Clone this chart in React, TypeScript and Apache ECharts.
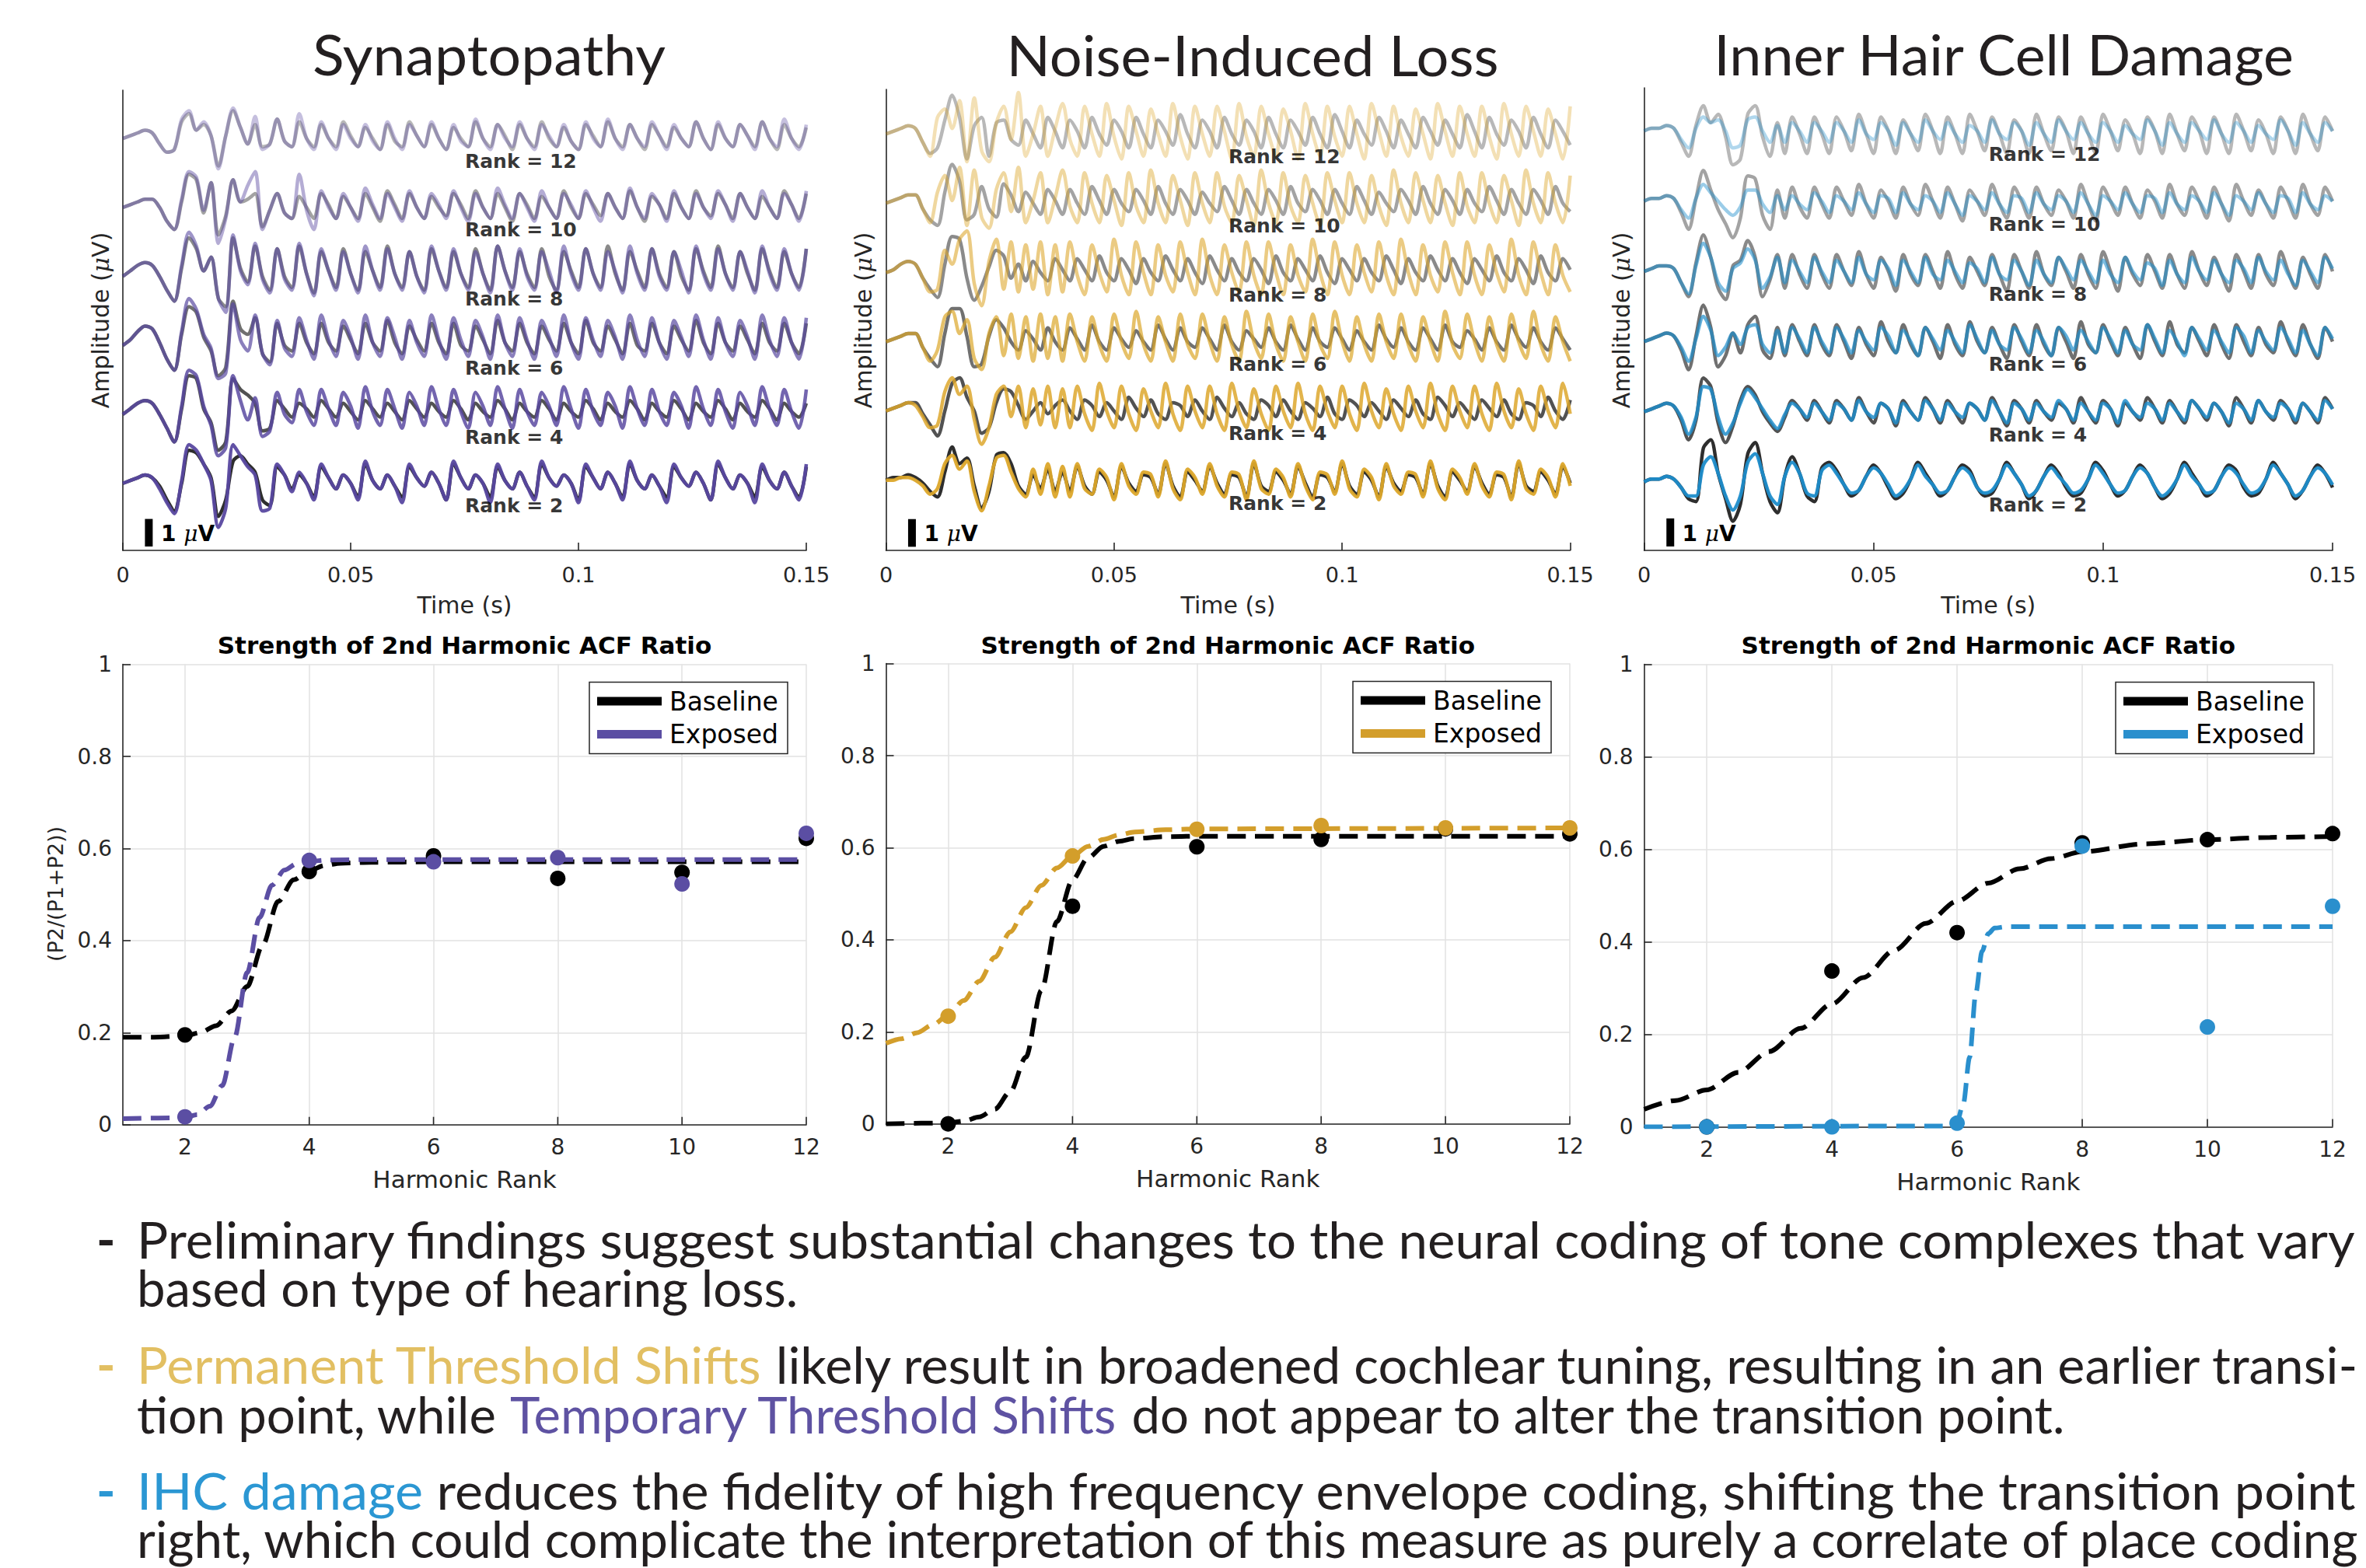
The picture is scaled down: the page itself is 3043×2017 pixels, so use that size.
import React, { useEffect, useRef } from "react";
import * as echarts from "echarts";

const W = 3043;
const H = 2017;

// ================= DATA =================
// Waveforms: tenths of a microvolt, relative to each trace's own offset, sampled evenly over 0-0.15 s.
const RANKS = [12, 10, 8, 6, 4, 2];

// --- Synaptopathy ---
const SYN_B12 = [0,1,2,3,2,-2,-5,-4,6,9,3,5,1,-10,1,10,4,-2,5,-3,-2,7,-1,-3,6,0,-3,5,0,-3,6,1,-3,4,0,-4,5,-1,-3,6,1,-3,5,0,-4,4,0,-3,6,0,-3,5,1,-4,5,0,-3,6,0,-3,4,-1,-4,5,1,-3,6,0,-3,5,0,-4,5,1,-3,4,0,-3,6,0,-4,5,0,-3,5,1,-3,6,0,-4,5,0,-3,4];
const SYN_E12 = [0,1,2,3,2,-2,-5,-4,7,10,3,6,1,-11,1,11,4,-2,8,-4,-2,7,-1,-3,9,0,-4,6,0,-4,5,0,-3,5,-1,-4,6,0,-4,5,1,-3,6,0,-4,5,-1,-3,7,0,-4,5,0,-3,6,0,-4,5,1,-3,5,-1,-4,6,0,-3,7,0,-4,5,0,-3,6,1,-4,5,0,-3,6,0,-4,6,0,-3,5,1,-4,6,0,-3,7,0,-4,5];
const SYN_B10 = [0,1,2,3,3,0,-5,-8,2,12,10,-2,9,-10,-3,10,2,3,5,-7,-1,5,-2,-4,4,0,-4,5,1,-4,4,0,-4,5,0,-5,6,1,-4,5,0,-4,4,0,-3,5,1,-4,6,0,-4,5,0,-5,5,1,-4,4,0,-4,6,0,-4,5,1,-3,5,0,-4,6,0,-5,4,1,-4,5,0,-4,6,0,-3,5,1,-4,5,0,-4,4,0,-4,6,1,-4,5];
const SYN_E10 = [0,1,2,3,3,0,-5,-8,3,13,11,-1,9,-13,-4,10,2,8,13,-8,-1,5,-2,-4,12,-1,-8,6,0,-4,5,0,-5,7,1,-4,5,0,-5,6,0,-4,5,1,-4,6,0,-5,5,0,-4,7,1,-4,5,0,-5,6,0,-4,5,1,-4,6,0,-5,5,0,-4,7,0,-4,5,1,-5,6,0,-4,5,0,-4,6,1,-5,5,0,-4,6,0,-4,5,1,-5,6];
const SYN_B8 = [0,2,4,5,4,0,-5,-9,3,14,10,2,7,-8,-11,14,3,-2,11,0,-5,10,0,-4,11,1,-6,9,2,-4,10,1,-5,9,2,-4,11,1,-4,9,0,-5,10,2,-4,9,1,-4,10,1,-5,11,2,-4,9,1,-4,10,0,-5,9,2,-4,10,1,-4,11,1,-5,9,2,-4,10,1,-4,9,0,-5,10,2,-4,11,1,-4,9,1,-5,10,2,-4,9,1,-4,10];
const SYN_E8 = [0,2,4,5,4,0,-5,-9,4,16,11,2,7,-8,-13,15,2,-3,12,-1,-6,10,-1,-5,12,1,-7,10,2,-5,9,1,-6,11,2,-5,10,1,-5,9,0,-6,11,2,-5,10,1,-5,9,1,-6,11,2,-5,10,0,-5,9,2,-6,11,1,-5,10,1,-5,9,2,-6,11,1,-5,10,0,-5,9,2,-6,11,1,-5,10,1,-5,9,2,-6,11,1,-5,10,1,-5,10];
const SYN_B6 = [0,2,5,7,6,1,-5,-9,4,14,12,3,-2,-11,-8,16,6,4,10,-3,-6,8,0,-2,8,1,-3,8,1,-2,7,2,-3,8,1,-2,9,1,-3,7,2,-2,8,1,-3,8,0,-2,7,2,-3,9,1,-2,8,1,-3,7,2,-2,8,1,-3,9,1,-2,7,2,-3,8,0,-2,8,1,-3,7,2,-2,9,1,-3,8,1,-2,7,2,-3,8,1,-2,8,1,-3,8];
const SYN_E6 = [0,2,5,7,6,1,-5,-9,5,17,13,4,-1,-12,-10,15,2,-2,11,-3,-7,9,-1,-4,10,2,-5,11,2,-4,9,3,-5,11,1,-4,10,3,-5,9,1,-4,11,2,-5,10,2,-4,9,3,-5,11,1,-4,10,2,-5,9,3,-4,11,1,-5,10,2,-4,9,3,-5,11,2,-4,10,1,-5,9,3,-4,11,2,-5,10,1,-4,9,3,-5,11,2,-4,10,1,-5,10];
const SYN_B4 = [0,2,4,5,4,0,-5,-10,2,14,13,2,-3,-13,-10,13,9,7,4,-6,-5,5,2,-1,4,2,-1,5,2,-1,4,1,-2,5,2,-1,4,1,-2,5,2,-1,4,1,-1,5,2,-2,4,1,-1,5,2,-2,4,1,-1,5,2,-2,4,1,-1,5,2,-2,4,1,-1,5,2,-2,4,1,-1,5,2,-2,4,1,-1,5,2,-2,4,1,-1,5,2,-2,4,1,-1,4];
const SYN_E4 = [0,2,4,5,4,0,-5,-10,3,16,14,3,-4,-15,-12,14,5,-2,6,-8,-6,8,0,-3,9,1,-4,9,2,-4,8,3,-5,10,1,-4,9,2,-5,8,3,-4,10,2,-4,9,1,-5,8,3,-4,10,2,-5,9,1,-4,8,3,-4,10,2,-5,9,1,-4,8,3,-5,10,2,-4,9,1,-4,8,3,-5,10,2,-4,9,1,-5,8,3,-4,10,2,-4,9,1,-5,9];
const SYN_B2 = [0,1,2,3,2,-1,-6,-10,0,12,11,7,2,-12,-6,8,10,7,4,-6,-8,6,3,-2,3,0,-5,6,2,-2,3,0,-5,7,1,-2,3,-1,-5,6,2,-1,4,0,-6,7,2,-2,3,0,-5,6,1,-2,4,-1,-5,7,2,-1,3,0,-6,6,2,-2,4,0,-5,7,1,-2,3,-1,-5,6,2,-1,4,0,-6,7,2,-2,3,0,-5,6,1,-2,4,-1,-5,6];
const SYN_E2 = [0,1,2,3,2,-2,-7,-11,1,14,12,7,1,-16,-9,14,10,6,3,-10,-9,7,3,-3,4,0,-6,7,2,-2,3,0,-6,8,1,-2,3,-1,-7,7,2,-1,4,0,-6,8,2,-2,3,0,-7,7,1,-2,4,-1,-6,8,2,-1,3,0,-7,7,2,-2,4,0,-6,8,1,-2,3,-1,-7,7,2,-1,4,0,-6,8,2,-2,3,0,-7,7,1,-2,4,-1,-6,7];

// --- Noise-induced loss ---
const NOI_B12 = [0,1,2,3,2,-3,-7,-5,5,14,6,-9,3,6,-8,4,5,-2,-4,5,0,-5,6,1,-5,5,1,-5,6,0,-4,5,1,-5,6,0,-5,5,1,-4,7,0,-5,5,1,-5,6,0,-4,5,1,-5,6,0,-5,5,1,-4,6,0,-5,7,1,-5,5,0,-4,6,1,-5,5,0,-5,6,1,-4,5,0,-5,7,1,-5,6,0,-4,5,1,-5,6,0,-5,5,1,-4];
const NOI_E12 = [0,1,2,3,2,-3,-8,6,9,2,12,-10,13,-6,-10,4,10,-2,15,-8,0,10,-8,2,11,-2,-8,10,0,-8,11,-1,-9,10,1,-8,9,0,-8,11,-1,-9,10,0,-8,10,1,-9,11,-1,-8,10,0,-8,9,1,-9,11,0,-8,10,-1,-8,10,0,-9,11,1,-8,10,-1,-8,9,0,-9,11,1,-8,10,0,-8,10,-1,-9,11,0,-8,10,1,-8,9,0,-9,10];
const NOI_B10 = [0,1,2,3,3,-2,-6,-8,4,14,8,-6,-4,6,-2,-5,7,3,-3,4,0,-4,5,1,-4,5,0,-4,6,1,-4,5,0,-3,5,1,-4,6,0,-4,5,1,-4,4,0,-3,6,1,-4,5,0,-4,5,1,-4,6,0,-3,5,1,-4,5,0,-4,6,1,-4,4,0,-3,5,1,-4,6,0,-4,5,1,-4,5,0,-3,6,1,-4,5,0,-4,5,1,-4,6,0,-3];
const NOI_E10 = [0,1,2,3,3,-2,-7,4,10,1,13,-8,12,-5,-9,5,11,-3,13,-7,1,11,-7,2,12,-1,-7,11,0,-7,10,1,-8,11,-1,-7,12,0,-7,10,1,-8,11,0,-7,11,-1,-7,10,1,-8,12,0,-7,11,-1,-7,10,0,-8,11,1,-7,11,0,-7,10,-1,-8,12,0,-7,11,1,-7,10,0,-8,11,-1,-7,11,0,-7,10,1,-8,12,0,-7,11,0,-7,10];
const NOI_B8 = [0,1,3,4,3,-2,-6,-9,3,13,12,-2,-10,-5,2,8,6,-2,3,-3,4,0,-3,5,1,-3,5,1,-3,6,0,-3,5,1,-4,5,0,-3,6,1,-3,5,0,-4,6,1,-3,5,0,-3,5,1,-4,6,0,-3,5,1,-3,6,0,-4,5,1,-3,5,0,-3,6,1,-4,5,0,-3,6,1,-3,5,0,-4,5,1,-3,6,0,-3,5,1,-4,6,0,-3,5,1];
const NOI_E8 = [0,1,3,4,3,-2,-7,-6,8,3,12,15,-4,-12,4,12,-6,11,-7,10,-6,11,-8,10,-7,11,-1,-8,10,0,-7,12,-1,-8,11,0,-8,10,-1,-7,11,0,-8,12,-1,-8,10,0,-7,11,-1,-8,11,0,-8,10,-1,-7,12,0,-8,11,-1,-8,10,0,-7,11,-1,-8,12,0,-8,10,-1,-7,11,0,-8,11,-1,-8,10,0,-7,12,-1,-8,11,0,-8,10,-1,-7];
const NOI_B6 = [0,1,2,3,3,-2,-6,-9,3,12,12,2,-9,-8,2,8,5,0,-3,4,1,-3,5,0,-3,5,1,-3,6,0,-3,5,1,-2,4,0,-3,6,1,-3,5,0,-2,5,1,-3,6,0,-3,4,1,-2,5,0,-3,6,1,-3,5,0,-2,5,1,-3,4,0,-3,6,1,-2,5,0,-3,5,1,-3,6,0,-2,4,1,-3,5,0,-3,6,1,-2,5,0,-3,5,1,-3];
const NOI_E6 = [0,1,2,3,3,-2,-7,-3,9,11,3,8,-6,-10,3,9,-5,10,-6,9,-7,10,-6,9,-7,10,0,-7,9,-1,-7,10,0,-6,11,-1,-7,9,0,-7,10,-1,-6,10,0,-7,9,-1,-7,11,0,-6,10,-1,-7,9,0,-7,10,-1,-6,11,0,-7,9,-1,-7,10,0,-6,10,-1,-7,9,0,-7,11,-1,-6,10,0,-7,9,-1,-7,10,0,-6,11,-1,-7,9,0,-7];
const NOI_B4 = [0,1,2,3,3,-1,-5,-9,0,10,12,5,0,-8,-6,3,8,7,2,-3,0,3,-1,2,4,0,-3,4,2,-2,3,0,-3,5,1,-2,4,-1,-3,3,2,-2,4,0,-3,5,1,-2,3,-1,-3,4,2,-2,4,0,-3,3,1,-2,5,-1,-3,4,2,-2,3,0,-3,4,1,-2,4,-1,-3,5,2,-2,3,0,-3,4,1,-2,4,-1,-3,3,2,-2,5,0,-3,4];
const NOI_E4 = [0,1,2,3,2,-2,-6,-5,7,12,6,9,-3,-12,-6,6,9,-2,9,-6,8,-5,9,-6,8,-6,9,-1,-7,10,0,-6,9,-1,-7,8,0,-6,10,-1,-7,9,0,-6,9,-1,-7,10,0,-6,8,-1,-7,9,0,-6,10,-1,-7,9,0,-6,9,-1,-7,10,0,-6,8,-1,-7,9,0,-6,10,-1,-7,9,0,-6,9,-1,-7,10,0,-6,8,-1,-7,9,0,-6,10,-1];
const NOI_B2 = [0,1,1,2,1,-1,-4,-6,3,12,6,8,-2,-10,-4,9,10,6,-2,-5,2,-3,4,-4,3,-4,5,-2,-5,3,0,-6,5,-1,-4,2,1,-5,6,-2,-6,3,0,-4,5,-1,-5,2,1,-6,6,-2,-4,3,0,-5,5,-1,-6,2,1,-4,6,-2,-5,3,0,-6,5,-1,-4,2,1,-5,6,-2,-6,3,0,-4,5,-1,-5,2,1,-6,6,-2,-4,3,0,-5,5,-1];
const NOI_E2 = [0,0,1,1,0,-2,-5,-3,6,9,4,7,-4,-11,-2,8,9,3,-3,-6,4,-5,6,-6,5,-6,6,-3,-5,4,1,-7,6,-2,-5,3,2,-6,7,-3,-7,4,1,-5,6,-2,-6,3,2,-7,7,-3,-5,4,1,-6,6,-2,-7,3,2,-5,7,-3,-6,4,1,-7,6,-2,-5,3,2,-6,7,-3,-7,4,1,-5,6,-2,-6,3,2,-7,7,-3,-5,4,1,-6,6,-2];

// --- Inner hair cell damage ---
const IHC_B12 = [0,1,1,2,1,-4,-9,2,9,3,6,-2,-12,-10,6,9,-2,-9,3,-8,5,-1,-8,5,-1,-8,5,0,-7,6,-1,-8,5,0,-8,4,-1,-7,6,0,-8,5,-1,-8,6,0,-7,5,-1,-8,4,0,-8,6,-1,-7,5,0,-8,5,-1,-8,6,0,-7,4,-1,-8,5,0,-8,6,-1,-7,5,0,-8,5,-1,-8,6,0,-7,4,-1,-8,5,0,-8,6,-1,-7,5,0];
const IHC_E12 = [0,1,1,2,1,-3,-6,1,5,3,4,0,-6,-5,4,5,0,-4,2,-4,3,0,-4,3,0,-4,3,0,-4,4,-1,-3,3,0,-5,3,-1,-4,4,0,-3,3,-1,-4,2,0,-4,4,-1,-3,3,0,-5,3,-1,-4,4,0,-3,3,-1,-4,3,0,-4,2,-1,-3,4,0,-5,3,-1,-4,3,0,-3,4,-1,-4,3,0,-4,2,-1,-3,4,0,-5,3,-1,-4,3,0];
const IHC_B10 = [0,1,1,2,1,-4,-10,1,11,4,-3,-8,-13,-6,9,8,-5,-10,4,-6,5,-2,-6,5,-1,-6,5,0,-5,6,-1,-6,4,0,-6,5,-1,-5,6,0,-6,5,-1,-7,4,0,-5,6,-1,-6,5,0,-6,5,-1,-5,4,0,-6,6,-1,-7,5,0,-5,5,-1,-6,4,0,-6,6,-1,-5,5,0,-6,5,-1,-7,6,0,-5,4,-1,-6,5,0,-6,6,-1,-5,5,0];
const IHC_E10 = [0,1,1,2,1,-3,-6,1,6,3,0,-3,-5,-2,4,4,-1,-4,2,-3,2,-1,-3,3,0,-4,2,0,-3,3,-1,-4,2,1,-4,3,-1,-3,2,0,-4,3,-1,-5,2,0,-3,3,-1,-4,2,1,-4,3,-1,-3,2,0,-4,3,-1,-5,2,0,-3,3,-1,-4,2,1,-4,3,-1,-3,2,0,-4,3,-1,-5,2,0,-3,3,-1,-4,2,1,-4,3,-1,-3,2,0];
const IHC_B8 = [0,1,2,2,1,-4,-9,3,13,5,-6,-10,2,4,11,5,-9,-3,6,-6,6,-1,-6,6,-1,-6,6,0,-5,7,-1,-6,5,0,-7,6,-1,-5,6,0,-6,7,-1,-6,5,0,-5,6,-1,-7,6,0,-6,7,-1,-5,5,0,-6,6,-1,-6,7,0,-7,5,-1,-5,6,0,-6,6,-1,-6,7,0,-5,5,-1,-7,6,0,-6,6,-1,-5,7,0,-6,5,-1,-6,6,0];
const IHC_E8 = [0,1,2,2,1,-4,-8,2,10,5,-4,-7,1,3,8,4,-6,-2,5,-4,4,0,-4,5,0,-4,4,0,-4,5,-1,-3,4,1,-5,4,0,-4,5,-1,-3,4,0,-4,3,1,-4,5,-1,-3,4,0,-5,4,-1,-4,5,1,-3,4,0,-4,4,-1,-4,5,0,-3,3,1,-5,4,-1,-4,5,0,-3,4,-1,-4,4,1,-4,5,0,-3,4,-1,-5,4,0,-4,5,1];
const IHC_B6 = [0,1,2,3,2,-3,-10,2,13,5,-9,-5,3,-4,6,9,-3,-6,5,-5,6,0,-5,6,-1,-5,6,0,-6,5,-1,-5,7,0,-4,6,-1,-5,5,0,-6,6,-1,-5,7,0,-4,5,-1,-6,6,0,-5,6,-1,-5,5,0,-6,7,-1,-4,6,0,-5,5,-1,-6,6,0,-5,7,-1,-4,5,0,-5,6,-1,-6,6,0,-5,5,-1,-4,7,0,-5,6,-1,-6,5,0];
const IHC_E6 = [0,1,2,3,2,-2,-7,1,9,4,-5,-2,3,-1,5,6,-1,-4,4,-4,5,1,-4,5,0,-4,5,1,-4,4,0,-3,5,2,-4,4,0,-5,5,1,-3,4,0,-4,6,1,-4,4,-1,-3,5,1,-4,4,0,-5,5,2,-3,4,0,-4,5,1,-4,4,-1,-3,6,1,-4,4,0,-5,5,1,-3,4,0,-4,5,2,-4,4,0,-3,5,1,-4,4,-1,-5,5,1];
const IHC_B4 = [0,1,2,3,2,-3,-10,-3,12,9,-4,-11,-5,4,9,6,0,-4,-7,-2,4,1,-3,4,0,-4,4,1,-3,5,0,-4,3,1,-5,4,0,-3,5,1,-4,4,0,-4,3,1,-3,5,0,-5,4,1,-4,4,0,-3,3,1,-4,5,0,-4,4,1,-5,3,0,-3,5,1,-4,4,0,-4,4,1,-3,3,0,-5,5,1,-4,4,0,-3,4,1,-4,3,0,-4,5,1];
const IHC_E4 = [0,1,2,3,2,-2,-8,-2,9,8,-2,-8,-4,3,8,5,1,-3,-6,-1,3,1,-2,3,0,-3,3,1,-3,4,0,-2,3,1,-4,3,0,-3,4,1,-3,3,0,-2,3,1,-3,4,0,-4,3,1,-3,3,0,-2,4,1,-3,3,0,-3,3,1,-4,4,0,-2,3,1,-3,3,0,-3,4,1,-2,3,0,-4,3,1,-3,4,0,-2,3,1,-3,3,0,-3,4,1];
const IHC_B2 = [0,1,1,2,1,-2,-6,-7,12,15,3,-6,-14,-8,10,14,3,-7,-11,2,9,3,-5,-7,5,7,4,-1,-5,-3,2,6,3,-2,-6,-4,1,7,3,-1,-5,-3,2,6,4,-2,-5,-4,1,7,3,-1,-6,-3,2,6,3,-2,-5,-4,1,7,4,-1,-5,-3,2,6,3,-2,-6,-4,1,7,3,-1,-5,-3,2,6,4,-2,-5,-4,1,7,3,-1,-6,-3,2,6,3,-2];
const IHC_E2 = [0,1,1,2,1,-2,-5,-5,6,9,3,-5,-10,-5,7,10,3,-5,-8,2,7,3,-4,-5,4,6,3,-1,-4,-3,2,5,3,-1,-5,-3,1,6,2,-1,-4,-3,2,5,3,-2,-4,-3,1,6,3,-1,-5,-3,2,5,2,-1,-4,-3,1,6,3,-1,-4,-3,2,5,3,-2,-5,-3,1,6,2,-1,-4,-3,2,5,3,-1,-4,-3,1,6,3,-1,-5,-3,2,5,3,-1];

// --- Strength of 2nd harmonic ACF ratio ---
const HARMONIC_RANKS = [2, 4, 6, 8, 10, 12];
const SYN_BASE_PTS = [0.195, 0.55, 0.584, 0.535, 0.548, 0.622];
const SYN_EXP_PTS = [0.017, 0.574, 0.571, 0.58, 0.523, 0.633];
const NOI_BASE_PTS = [0.0, 0.473, 0.602, 0.618, 0.641, 0.63];
const NOI_EXP_PTS = [0.234, 0.582, 0.64, 0.648, 0.643, 0.643];
const IHC_BASE_PTS = [0.0, 0.337, 0.42, 0.614, 0.621, 0.634];
const IHC_EXP_PTS = [0.0, 0.0, 0.008, 0.607, 0.216, 0.477];

// fitted (dashed) curves
const SYN_FIT_BASE_X = [1, 1.5, 2, 2.25, 2.5, 2.75, 3, 3.25, 3.5, 3.75, 4, 4.25, 4.5, 5, 6, 12];
const SYN_FIT_BASE_Y = [0.19, 0.19, 0.193, 0.2, 0.215, 0.247, 0.3, 0.39, 0.485, 0.532, 0.552, 0.563, 0.568, 0.57, 0.571, 0.571];
const SYN_FIT_EXP_X = [1, 2, 2.2, 2.4, 2.6, 2.8, 3, 3.2, 3.4, 3.6, 3.8, 4, 4.3, 5, 12];
const SYN_FIT_EXP_Y = [0.013, 0.015, 0.022, 0.04, 0.085, 0.19, 0.33, 0.45, 0.52, 0.553, 0.567, 0.572, 0.575, 0.576, 0.576];
const NOI_FIT_BASE_X = [1, 2, 2.25, 2.5, 2.75, 3, 3.25, 3.5, 3.75, 4, 4.25, 4.5, 4.75, 5, 5.5, 6, 12];
const NOI_FIT_BASE_Y = [0, 0.002, 0.006, 0.015, 0.032, 0.07, 0.145, 0.29, 0.44, 0.53, 0.578, 0.603, 0.614, 0.62, 0.624, 0.625, 0.625];
const NOI_FIT_EXP_X = [1, 1.25, 1.5, 1.75, 2, 2.25, 2.5, 2.75, 3, 3.25, 3.5, 3.75, 4, 4.25, 4.5, 4.75, 5, 5.5, 6, 12];
const NOI_FIT_EXP_Y = [0.175, 0.185, 0.198, 0.215, 0.236, 0.268, 0.31, 0.362, 0.417, 0.47, 0.518, 0.556, 0.582, 0.603, 0.618, 0.628, 0.634, 0.639, 0.641, 0.643];
const IHC_FIT_BASE_X = [1, 1.5, 2, 2.5, 3, 3.5, 4, 4.5, 5, 5.5, 6, 6.5, 7, 7.5, 8, 9, 10, 11, 12];
const IHC_FIT_BASE_Y = [0.038, 0.057, 0.08, 0.118, 0.163, 0.213, 0.266, 0.323, 0.382, 0.44, 0.488, 0.527, 0.558, 0.58, 0.595, 0.612, 0.621, 0.626, 0.628];
const IHC_FIT_EXP_X = [1, 5.9, 6.0, 6.1, 6.2, 6.3, 6.4, 6.5, 6.6, 6.8, 12];
const IHC_FIT_EXP_Y = [0, 0.002, 0.012, 0.05, 0.15, 0.29, 0.38, 0.418, 0.43, 0.433, 0.433];

// ================= LAYOUT / STYLE =================
const TOP_GRIDS = [
  { left: 158, top: 116, width: 879, height: 592 },
  { left: 1139.5, top: 115, width: 880, height: 593 },
  { left: 2114.6, top: 113, width: 885.4, height: 595 },
];
const TOP_YRANGE = [[-2.43, 14.25], [-2.53, 14.11], [-2.44, 14.04]];
const BOT_GRIDS = [
  { left: 158, top: 854.6, width: 879, height: 592.1 },
  { left: 1139.5, top: 853.6, width: 879.5, height: 592.1 },
  { left: 2114.6, top: 854.6, width: 885.4, height: 595 },
];
const RANK_STEP_UV = 2.5;
const RANK_LABEL_T = 0.075;
const RANK_LABEL_DY = -0.82;
const SCALE_T = 0.0057;
const SCALE_BOTTOM = [-2.29, -2.4, -2.3];

const AX = "#262626";
const TXT = "#231F20";
const EXP_COLORS = ["#5848A0", "#DCA62A", "#1E8DCB"];
const FIT_COLORS = ["#5B4EA3", "#D39E2B", "#2A8FCD"];
const BASE_ALPHA = [0.28, 0.36, 0.46, 0.56, 0.68, 0.82];
const EXP_ALPHA = [0.35, 0.45, 0.58, 0.7, 0.84, 0.95];
const SANS = "Lato";

const TITLES = [
  { t: "Synaptopathy", cx: 629, w: 454 },
  { t: "Noise-Induced Loss", cx: 1611, w: 633 },
  { t: "Inner Hair Cell Damage", cx: 2577, w: 749 },
];

let measureCtx: any = null;
function measure(text: string, font: string): number {
  if (!measureCtx) measureCtx = document.createElement("canvas").getContext("2d");
  measureCtx.font = font;
  return measureCtx.measureText(text).width || 1;
}

function zip(xs: number[], ys: number[]) {
  return xs.map((x, i) => [x, ys[i]]);
}

function traceData(arr: number[], offset: number) {
  const n = arr.length - 1;
  return arr.map((v, i) => [(i * 0.15) / n, offset + v / 10]);
}

function buildOption() {
  const grids: any[] = [];
  const xAxes: any[] = [];
  const yAxes: any[] = [];
  const series: any[] = [];
  const graphic: any[] = [];

  const topSets = [
    { base: [SYN_B12, SYN_B10, SYN_B8, SYN_B6, SYN_B4, SYN_B2], exp: [SYN_E12, SYN_E10, SYN_E8, SYN_E6, SYN_E4, SYN_E2] },
    { base: [NOI_B12, NOI_B10, NOI_B8, NOI_B6, NOI_B4, NOI_B2], exp: [NOI_E12, NOI_E10, NOI_E8, NOI_E6, NOI_E4, NOI_E2] },
    { base: [IHC_B12, IHC_B10, IHC_B8, IHC_B6, IHC_B4, IHC_B2], exp: [IHC_E12, IHC_E10, IHC_E8, IHC_E6, IHC_E4, IHC_E2] },
  ];
  const botSets = [
    { bp: SYN_BASE_PTS, ep: SYN_EXP_PTS, bx: SYN_FIT_BASE_X, by: SYN_FIT_BASE_Y, ex: SYN_FIT_EXP_X, ey: SYN_FIT_EXP_Y },
    { bp: NOI_BASE_PTS, ep: NOI_EXP_PTS, bx: NOI_FIT_BASE_X, by: NOI_FIT_BASE_Y, ex: NOI_FIT_EXP_X, ey: NOI_FIT_EXP_Y },
    { bp: IHC_BASE_PTS, ep: IHC_EXP_PTS, bx: IHC_FIT_BASE_X, by: IHC_FIT_BASE_Y, ex: IHC_FIT_EXP_X, ey: IHC_FIT_EXP_Y },
  ];

  // ---------- top panels ----------
  TOP_GRIDS.forEach((g, p) => {
    grids.push({ ...g, containLabel: false, outerBoundsMode: "none" });
    xAxes.push({
      type: "value", gridIndex: p, min: 0, max: 0.15, interval: 0.05,
      axisLine: { show: true, onZero: false, lineStyle: { color: AX, width: 1.6 } },
      axisTick: { show: true, inside: true, length: 10, lineStyle: { color: AX, width: 1.6 } },
      axisLabel: { show: true, margin: 18, fontFamily: "DejaVu Sans", fontSize: 27, color: AX,
        formatter: (v: number) => String(+v.toFixed(2)) },
      splitLine: { show: false },
    });
    yAxes.push({
      type: "value", gridIndex: p, min: TOP_YRANGE[p][0], max: TOP_YRANGE[p][1],
      axisLine: { show: true, onZero: false, lineStyle: { color: AX, width: 1.6 } },
      axisTick: { show: false }, axisLabel: { show: false }, splitLine: { show: false },
    });
    const set = topSets[p];
    RANKS.forEach((r, j) => {
      const off = (RANKS.length - 1 - j) * RANK_STEP_UV;
      series.push({
        type: "line", xAxisIndex: p, yAxisIndex: p, data: traceData(set.base[j], off),
        symbol: "none", silent: true, smooth: 0.3,
        lineStyle: { color: "#000", width: 4.5, opacity: BASE_ALPHA[j], join: "round" },
      });
      series.push({
        type: "line", xAxisIndex: p, yAxisIndex: p, data: traceData(set.exp[j], off),
        symbol: "none", silent: true, smooth: 0.3,
        lineStyle: { color: EXP_COLORS[p], width: 4.5, opacity: EXP_ALPHA[j], join: "round" },
      });
    });
    series.push({
      type: "scatter", xAxisIndex: p, yAxisIndex: p, symbolSize: 1, silent: true,
      itemStyle: { color: "rgba(0,0,0,0)" },
      data: RANKS.map((r, j) => [RANK_LABEL_T, (RANKS.length - 1 - j) * RANK_STEP_UV + RANK_LABEL_DY]),
      label: { show: true, position: "right", distance: 0, color: "#000", fontFamily: "DejaVu Sans",
        fontWeight: "bold", fontSize: 25, formatter: (prm: any) => "Rank = " + RANKS[prm.dataIndex] },
      z: 5,
    });
    series.push({
      type: "line", xAxisIndex: p, yAxisIndex: p, symbol: "none", silent: true,
      data: [[SCALE_T, SCALE_BOTTOM[p]], [SCALE_T, SCALE_BOTTOM[p] + 1]],
      lineStyle: { color: "#000", width: 10 }, z: 5,
    });

    graphic.push({
      type: "text", x: g.left - 29, y: 412, rotation: Math.PI / 2,
      style: {
        text: "{n|Amplitude (}{m|\u03bc}{n|V)}",
        rich: {
          n: { fontFamily: "DejaVu Sans", fontSize: 30, fill: AX },
          m: { fontFamily: "DejaVu Serif", fontStyle: "italic", fontSize: 30, fill: AX },
        },
        align: "center", verticalAlign: "middle", textAlign: "center", textVerticalAlign: "middle",
      },
    });
    graphic.push({
      type: "text", x: g.left + g.width / 2, y: 778,
      style: { text: "Time (s)", fontFamily: "DejaVu Sans", fontSize: 30, fill: AX,
        align: "center", verticalAlign: "middle", textAlign: "center", textVerticalAlign: "middle" },
    });
    graphic.push({
      type: "text", x: g.left + 49, y: 686,
      style: {
        text: "{b|1 }{m|\u03bc}{b|V}",
        rich: {
          b: { fontFamily: "DejaVu Sans", fontWeight: "bold", fontSize: 28, fill: "#000" },
          m: { fontFamily: "DejaVu Serif", fontStyle: "italic", fontSize: 28, fill: "#000" },
        },
        align: "left", verticalAlign: "middle", textAlign: "left", textVerticalAlign: "middle",
      },
    });
  });

  // ---------- bottom panels ----------
  BOT_GRIDS.forEach((g, p) => {
    const gi = 3 + p;
    grids.push({ ...g, containLabel: false, outerBoundsMode: "none" });
    xAxes.push({
      type: "value", gridIndex: gi, min: 1, max: 12, interval: 1,
      axisLine: { show: true, onZero: false, lineStyle: { color: AX, width: 1.6 } },
      axisTick: { show: false },
      axisLabel: { show: true, margin: 15, fontFamily: "DejaVu Sans", fontSize: 28, color: AX,
        formatter: (v: number) => (Math.round(v) % 2 === 0 ? String(Math.round(v)) : "") },
      splitLine: { show: true, lineStyle: { color: ["rgba(0,0,0,0)", "#e2e2e2"], width: 1.5 } },
    });
    yAxes.push({
      type: "value", gridIndex: gi, min: 0, max: 1, interval: 0.2,
      axisLine: { show: true, onZero: false, lineStyle: { color: AX, width: 1.6 } },
      axisTick: { show: true, inside: true, length: 10, lineStyle: { color: AX, width: 1.6 } },
      axisLabel: { show: true, margin: 14, fontFamily: "DejaVu Sans", fontSize: 28, color: AX,
        formatter: (v: number) => String(+v.toFixed(1)) },
      splitLine: { show: true, lineStyle: { color: "#e2e2e2", width: 1.5 } },
    });
    const s = botSets[p];
    series.push({
      type: "custom", xAxisIndex: gi, yAxisIndex: gi, silent: true, clip: false, z: 3,
      data: HARMONIC_RANKS.map((v) => [v, 0]),
      renderItem: (params: any, api: any) => {
        const pt = api.coord([api.value(0), api.value(1)]);
        return { type: "line", shape: { x1: pt[0], y1: pt[1], x2: pt[0], y2: pt[1] - 10 },
          style: { stroke: AX, lineWidth: 1.6 } };
      },
    });
    series.push({
      type: "line", xAxisIndex: gi, yAxisIndex: gi, data: zip(s.bx, s.by), symbol: "none", silent: true,
      smooth: 0.3, smoothMonotone: "x", lineStyle: { color: "#000", width: 6, type: [24, 12] }, z: 4,
    });
    series.push({
      type: "line", xAxisIndex: gi, yAxisIndex: gi, data: zip(s.ex, s.ey), symbol: "none", silent: true,
      smooth: 0.3, smoothMonotone: "x", lineStyle: { color: FIT_COLORS[p], width: 6, type: [24, 12] }, z: 4,
    });
    series.push({
      type: "scatter", xAxisIndex: gi, yAxisIndex: gi, data: zip(HARMONIC_RANKS, s.bp), symbolSize: 20,
      silent: true, itemStyle: { color: "#000", opacity: 1 }, z: 6,
    });
    series.push({
      type: "scatter", xAxisIndex: gi, yAxisIndex: gi, data: zip(HARMONIC_RANKS, s.ep), symbolSize: 20,
      silent: true, itemStyle: { color: FIT_COLORS[p], opacity: 1 }, z: 7,
    });

    const cx = g.left + g.width / 2;
    graphic.push({
      type: "text", x: cx, y: 830,
      style: { text: "Strength of 2nd Harmonic ACF Ratio", fontFamily: "DejaVu Sans", fontWeight: "bold",
        fontSize: 31, fill: "#000", align: "center", verticalAlign: "middle", textAlign: "center", textVerticalAlign: "middle" },
    });
    graphic.push({
      type: "text", x: cx, y: g.top + g.height + 70,
      style: { text: "Harmonic Rank", fontFamily: "DejaVu Sans", fontSize: 31, fill: AX,
        align: "center", verticalAlign: "middle", textAlign: "center", textVerticalAlign: "middle" },
    });
    const bw = 255, bh = 92;
    const bx = g.left + g.width - 24 - bw;
    const by = g.top + 23;
    graphic.push({ type: "rect", shape: { x: bx, y: by, width: bw, height: bh },
      style: { fill: "#fff", stroke: AX, lineWidth: 1.5 }, z: 20 });
    [["Baseline", "#000", 24.5], ["Exposed", FIT_COLORS[p], 67]].forEach(([name, col, dy]: any) => {
      graphic.push({ type: "rect", shape: { x: bx + 10, y: by + dy - 5.5, width: 83, height: 11 },
        style: { fill: col }, z: 21 });
      graphic.push({ type: "text", x: bx + 103, y: by + dy, z: 21,
        style: { text: name, fontFamily: "DejaVu Sans", fontSize: 33, fill: "#000",
          align: "left", verticalAlign: "middle", textAlign: "left", textVerticalAlign: "middle" } });
    });
  });

  graphic.push({
    type: "text", x: 71, y: 1150, rotation: Math.PI / 2,
    style: { text: "(P2/(P1+P2))", fontFamily: "DejaVu Sans", fontSize: 27, fill: AX,
      align: "center", verticalAlign: "middle", textAlign: "center", textVerticalAlign: "middle" },
  });

  // ---------- titles ----------
  TITLES.forEach((t) => {
    const font = `71px "${SANS}"`;
    graphic.push({
      type: "text", x: t.cx, y: 70, scaleX: t.w / measure(t.t, font),
      style: { text: t.t, fontFamily: SANS, fontSize: 71, fill: TXT,
        align: "center", verticalAlign: "middle", textAlign: "center", textVerticalAlign: "middle" },
    });
  });

  // ---------- bullet text ----------
  const PS = 66;
  const pFont = `${PS}px "${SANS}"`;
  const rich = {
    k: { fontFamily: SANS, fontSize: PS, fill: TXT },
    g: { fontFamily: SANS, fontSize: PS, fill: "#E2BF62" },
    p: { fontFamily: SANS, fontSize: PS, fill: "#5E52A2" },
    b: { fontFamily: SANS, fontSize: PS, fill: "#2B97D3" },
  };
  const lines: any[] = [
    { y: 1619, x2: 3035, segs: [["k", "Preliminary findings suggest substantial changes to the neural coding of tone complexes that vary"]], dash: TXT },
    { y: 1681.7, x2: 1028, segs: [["k", "based on type of hearing loss."]] },
    { y: 1780.7, x2: 3038, segs: [["g", "Permanent Threshold Shifts"], ["k", " likely result in broadened cochlear tuning, resulting in an earlier transi-"]], dash: "#E2BF62" },
    { y: 1844, x2: 2659, segs: [["k", "tion point, while "], ["p", "Temporary Threshold Shifts"], ["k", " do not appear to alter the transition point."]] },
    { y: 1942, x2: 3035, segs: [["b", "IHC damage"], ["k", " reduces the fidelity of high frequency envelope coding, shifting the transition point"]], dash: "#2B97D3" },
    { y: 2004, x2: 3040, segs: [["k", "right, which could complicate the interpretation of this measure as purely a correlate of place coding"]] },
  ];
  const X0 = 176;
  const DY = 26;
  lines.forEach((ln) => {
    const plain = ln.segs.map((s: any) => s[1]).join("");
    const sx = (ln.x2 - X0) / measure(plain, pFont);
    graphic.push({
      type: "text", x: X0, y: ln.y - DY, scaleX: sx,
      style: { text: ln.segs.map((s: any) => `{${s[0]}|${s[1]}}`).join(""), rich,
        fontFamily: SANS, fontSize: PS, align: "left", verticalAlign: "middle", textAlign: "left", textVerticalAlign: "middle" },
    });
    if (ln.dash) {
      graphic.push({
        type: "text", x: 124, y: ln.y - DY,
        style: { text: "-", fontFamily: SANS, fontSize: PS, fill: ln.dash, fontWeight: "bold",
          align: "left", verticalAlign: "middle", textAlign: "left", textVerticalAlign: "middle" },
      });
    }
  });

  return {
    animation: false,
    backgroundColor: "#ffffff",
    grid: grids,
    xAxis: xAxes,
    yAxis: yAxes,
    series,
    graphic: { elements: graphic },
  };
}

export default function App() {
  const ref = useRef<HTMLDivElement>(null);
  useEffect(() => {
    const el = ref.current;
    if (!el) return;
    const chart = echarts.init(el, undefined, { renderer: "svg", width: W, height: H });
    chart.setOption(buildOption() as any);
    return () => chart.dispose();
  }, []);
  return (
    <div
      ref={ref}
      style={{ position: "fixed", left: 0, top: 0, width: W, height: H, background: "#fff" }}
    />
  );
}
